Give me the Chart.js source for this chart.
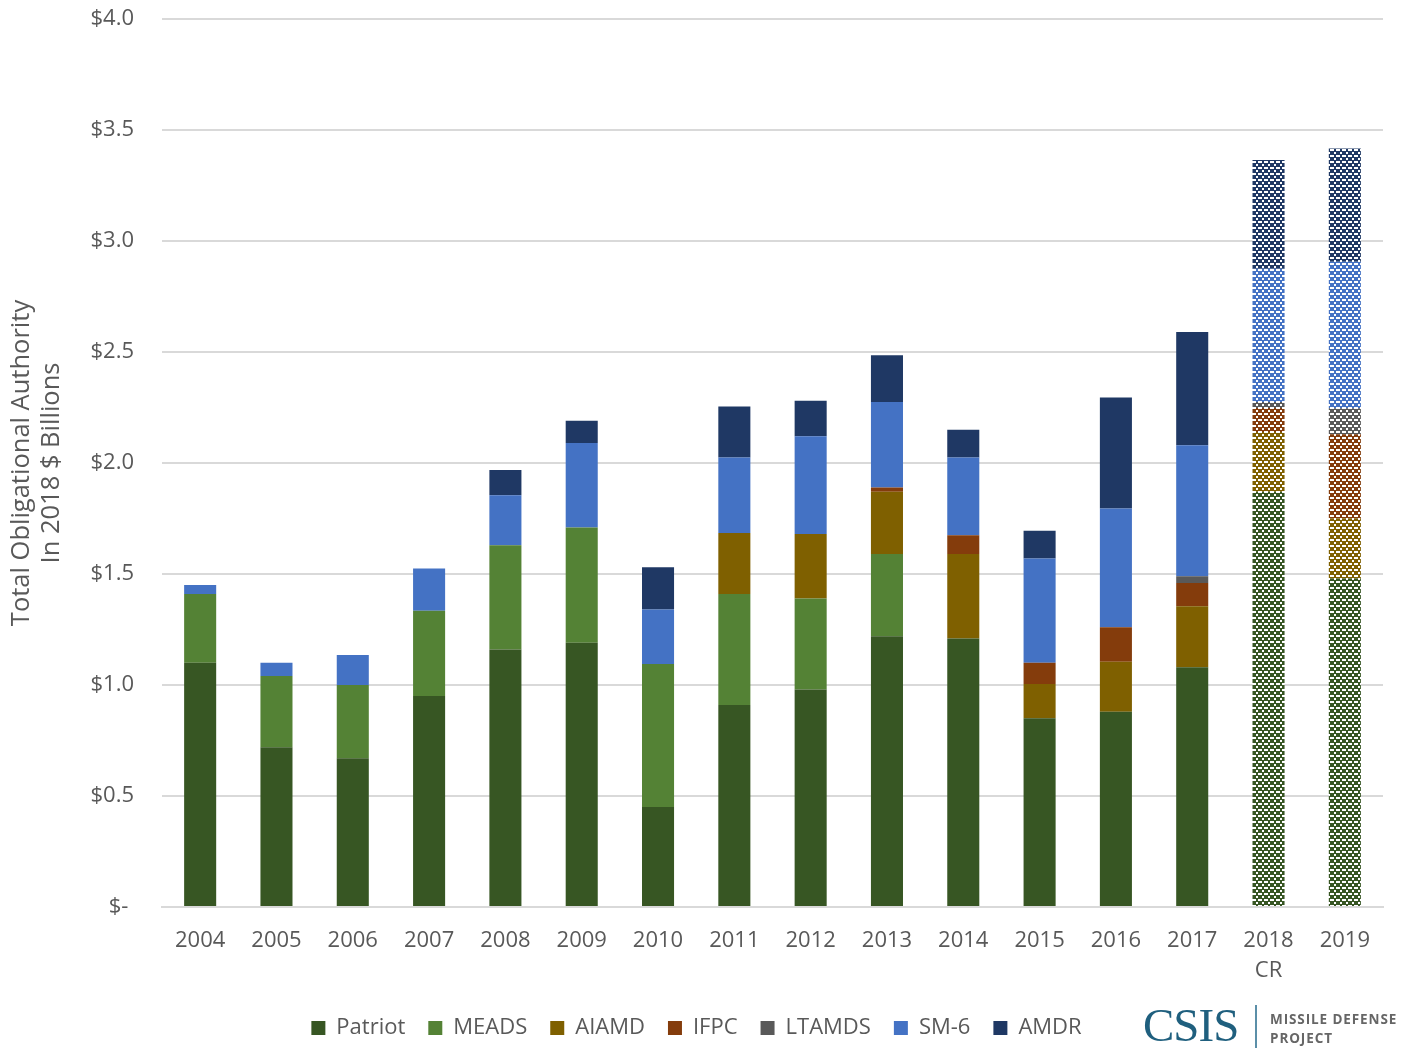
<!DOCTYPE html>
<html>
<head>
<meta charset="utf-8">
<script src="https://cdn.jsdelivr.net/npm/chart.js@4.4.1/dist/chart.umd.min.js"></script>
<style>
html,body{margin:0;padding:0;background:#fff;}
#wrap{position:relative;width:1414px;height:1048px;}
#logo{position:absolute;left:1143px;top:1000px;height:48px;}
#csis{position:absolute;left:0;top:2px;font-family:"Liberation Serif","DejaVu Serif",serif;font-size:47px;color:#1f5f7e;line-height:47px;letter-spacing:-1px;}
#bar{position:absolute;left:112px;top:5px;width:2px;height:43px;background:#5b8fa8;}
#mdp{position:absolute;left:127px;top:10px;font-family:"Open Sans",sans-serif;font-weight:700;font-size:13.5px;line-height:19px;color:#666;letter-spacing:0.9px;white-space:nowrap;}
</style>
</head>
<body>
<div id="wrap">
<canvas id="c" width="1414" height="1048"></canvas>
<div id="logo"><div id="csis">CSIS</div><div id="bar"></div><div id="mdp">MISSILE DEFENSE<br>PROJECT</div></div>
</div>
<script>
const categories = ["2004","2005","2006","2007","2008","2009","2010","2011","2012","2013","2014","2015","2016","2017",["2018","CR"],"2019"];
const patriot = [1.10,0.72,0.67,0.95,1.16,1.19,0.45,0.91,0.98,1.22,1.21,0.85,0.88,1.08,1.87,1.48];
const meads   = [0.31,0.32,0.33,0.385,0.47,0.52,0.645,0.50,0.41,0.37,0,0,0,0,0,0];
const aiamd   = [0,0,0,0,0,0,0,0.275,0.29,0.28,0.38,0.155,0.225,0.275,0.27,0.27];
const ifpc    = [0,0,0,0,0,0,0,0,0,0.02,0.085,0.095,0.155,0.105,0.108,0.38];
const ltamds  = [0,0,0,0,0,0,0,0,0,0,0,0,0,0.03,0.027,0.117];
const sm6     = [0.04,0.06,0.135,0.19,0.225,0.38,0.245,0.34,0.44,0.385,0.35,0.47,0.535,0.59,0.60,0.66];
const amdr    = [0,0,0,0,0.113,0.10,0.19,0.23,0.16,0.21,0.125,0.125,0.50,0.51,0.49,0.51];
const yTicks  = [0,0.5,1.0,1.5,2.0,2.5,3.0,3.5,4.0];
const patternStart = 14;

const patternMap = [
  "..##..",
  "######",
  "##..##",
  "##..##",
  "######",
  "..##.."
];
function makePattern(color){
  const t = document.createElement('canvas');
  t.width = 6; t.height = 6;
  const g = t.getContext('2d');
  g.fillStyle = '#ffffff'; g.fillRect(0,0,6,6);
  g.fillStyle = color;
  patternMap.forEach((row, y) => {
    for (let x = 0; x < row.length; x++) if (row[x] === '#') g.fillRect(x, y, 1, 1);
  });
  return g.createPattern(t,'repeat');
}

const series = [
  ["Patriot", patriot, "#375623"],
  ["MEADS", meads, "#548235"],
  ["AIAMD", aiamd, "#7f6000"],
  ["IFPC", ifpc, "#843c0c"],
  ["LTAMDS", ltamds, "#595959"],
  ["SM-6", sm6, "#4472c4"],
  ["AMDR", amdr, "#1f3864"]
];

const datasets = series.map(([label, data, color]) => {
  const pat = makePattern(color);
  return {
    label, data,
    backgroundColor: (ctx) => (ctx.type === 'data' && ctx.dataIndex >= patternStart) ? pat : color,
    borderWidth: 0,
    barPercentage: 0.42,
    categoryPercentage: 1.0
  };
});

const txt = '#595959';
const fontFam = '"Open Sans", sans-serif';

const legendShift = {
  id: 'legendShift',
  afterLayout(chart) {
    if (chart.legend) { chart.legend.left += 5; chart.legend.right += 5; }
  }
};

new Chart(document.getElementById('c'), {
  type: 'bar',
  data: { labels: categories, datasets },
  plugins: [legendShift],
  options: {
    responsive: false,
    animation: false,
    layout: { padding: { top: 19, right: 31, left: 0, bottom: -1 } },
    plugins: {
      tooltip: { enabled: false },
      legend: {
        position: 'bottom',
        labels: {
          color: txt,
          font: { family: fontFam, size: 22 },
          boxWidth: 14, boxHeight: 14,
          padding: 23
        }
      }
    },
    scales: {
      x: {
        stacked: true,
        grid: { display: false, drawTicks: false },
        border: { display: true, color: '#d9d9d9', width: 2 },
        ticks: { color: txt, font: { family: fontFam, size: 22, lineHeight: 1.4 }, padding: 18, maxRotation: 0, autoSkip: false },
        afterFit: (s) => { s.height = 87; }
      },
      y: {
        stacked: true,
        min: 0, max: 4,
        afterBuildTicks: (s) => { s.ticks = yTicks.map(v => ({ value: v })); },
        grid: { color: '#d9d9d9', lineWidth: 2, drawTicks: false },
        border: { display: false },
        ticks: {
          color: txt, font: { family: fontFam, size: 22 }, padding: 28,
          callback: (v) => v === 0 ? '$- ' : '$' + Number(v).toFixed(1)
        },
        title: {
          display: true,
          text: ['Total Obligational Authority', 'In 2018 $ Billions'],
          color: txt, font: { family: fontFam, size: 25.5, lineHeight: 1.18 }, padding: { top: 7, bottom: 0 }
        },
        afterFit: (s) => { s.width = 162; s.paddingTop = 0; s.paddingBottom = 0; }
      }
    }
  }
});
</script>
</body>
</html>
